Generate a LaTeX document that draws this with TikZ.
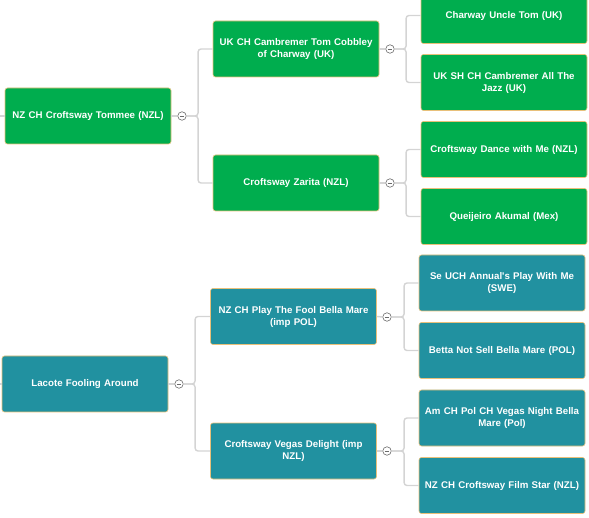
\documentclass[tikz,border=0pt]{standalone}
\usepackage{fontspec}
\setmainfont{Liberation Sans}
\newfontfamily\boxfont{Liberation Sans}
\hyphenpenalty=10000
\exhyphenpenalty=10000
\definecolor{grn}{HTML}{00AD4E}
\definecolor{tea}{HTML}{2191A0}
\definecolor{bord}{HTML}{E8C07A}
\definecolor{lin}{HTML}{D4D4D4}
\definecolor{knob}{HTML}{6A6A6A}
\tikzset{
  box/.style={draw=bord, line width=0.6pt, rounded corners=2.5pt, minimum width=166pt, minimum height=56pt,
    text width=164pt, align=center, text=white, inner sep=0pt,
    font=\boxfont\bfseries\fontsize{9.7}{12}\selectfont},
  gbox/.style={box, fill=grn},
  tbox/.style={box, fill=tea},
  conn/.style={draw=lin, line width=1.4pt, rounded corners=3pt},
  knobst/.style={circle, draw=knob, line width=0.6pt, fill=white, minimum size=8.5pt, inner sep=0pt,
    path picture={\draw[knob, line width=0.7pt] ([xshift=-2.2pt]path picture bounding box.center) -- ([xshift=2.2pt]path picture bounding box.center);}}
}
\begin{document}
\begin{tikzpicture}[x=1pt,y=-1pt]
\useasboundingbox (0,0) rectangle (589,518);
% top tree
\node[gbox] (r1) at (88,116) {NZ CH Croftsway Tommee (NZL)};
\node[gbox] (a1) at (296,49) {UK CH Cambremer Tom Cobbley\\ of Charway (UK)};
\node[gbox] (a2) at (296,183) {Croftsway Zarita (NZL)};
\node[gbox] (b1) at (504,15.5) {Charway Uncle Tom (UK)};
\node[gbox] (b2) at (504,82.5) {UK SH CH Cambremer All The\\ Jazz (UK)};
\node[gbox] (b3) at (504,149.5) {Croftsway Dance with Me (NZL)};
\node[gbox] (b4) at (504,216.5) {Queijeiro Akumal (Mex)};
% bottom tree
\node[tbox] (r2) at (85,384) {Lacote Fooling Around};
\node[tbox] (c1) at (293.5,316.5) {NZ CH Play The Fool Bella Mare\\ (imp POL)};
\node[tbox] (c2) at (293.5,451) {Croftsway Vegas Delight (imp\\ NZL)};
\node[tbox] (d1) at (502,283) {Se UCH Annual's Play With Me\\ (SWE)};
\node[tbox] (d2) at (502,350.5) {Betta Not Sell Bella Mare (POL)};
\node[tbox] (d3) at (502,418) {Am CH Pol CH Vegas Night Bella\\ Mare (Pol)};
\node[tbox] (d4) at (502,485.5) {NZ CH Croftsway Film Star (NZL)};
% knobs
\node[knobst] (k0) at (182,116) {};
\node[knobst] (k1) at (390,49) {};
\node[knobst] (k2) at (390,183) {};
\node[knobst] (k3) at (179,384) {};
\node[knobst] (k4) at (387,317) {};
\node[knobst] (k5) at (387,451) {};
\coordinate (s1) at (0,116);
\coordinate (s2) at (0,384);
% connectors
\draw[conn] (s1) -- (r1.west);
\draw[conn] (s2) -- (r2.west);
\draw[conn] (r1.east) -- (k0.west);
\draw[conn] (k0.east) -- ++(11.5,0) |- (a1.west);
\draw[conn] (k0.east) -- ++(11.5,0) |- (a2.west);
\draw[conn] (a1.east) -- (k1.west);
\draw[conn] (k1.east) -- ++(11.5,0) |- (b1.west);
\draw[conn] (k1.east) -- ++(11.5,0) |- (b2.west);
\draw[conn] (a2.east) -- (k2.west);
\draw[conn] (k2.east) -- ++(11.5,0) |- (b3.west);
\draw[conn] (k2.east) -- ++(11.5,0) |- (b4.west);
\draw[conn] (r2.east) -- (k3.west);
\draw[conn] (k3.east) -- ++(11.5,0) |- (c1.west);
\draw[conn] (k3.east) -- ++(11.5,0) |- (c2.west);
\draw[conn] (c1.east) -- (k4.west);
\draw[conn] (k4.east) -- ++(12.5,0) |- (d1.west);
\draw[conn] (k4.east) -- ++(12.5,0) |- (d2.west);
\draw[conn] (c2.east) -- (k5.west);
\draw[conn] (k5.east) -- ++(12.5,0) |- (d3.west);
\draw[conn] (k5.east) -- ++(12.5,0) |- (d4.west);
\end{tikzpicture}
\end{document}
